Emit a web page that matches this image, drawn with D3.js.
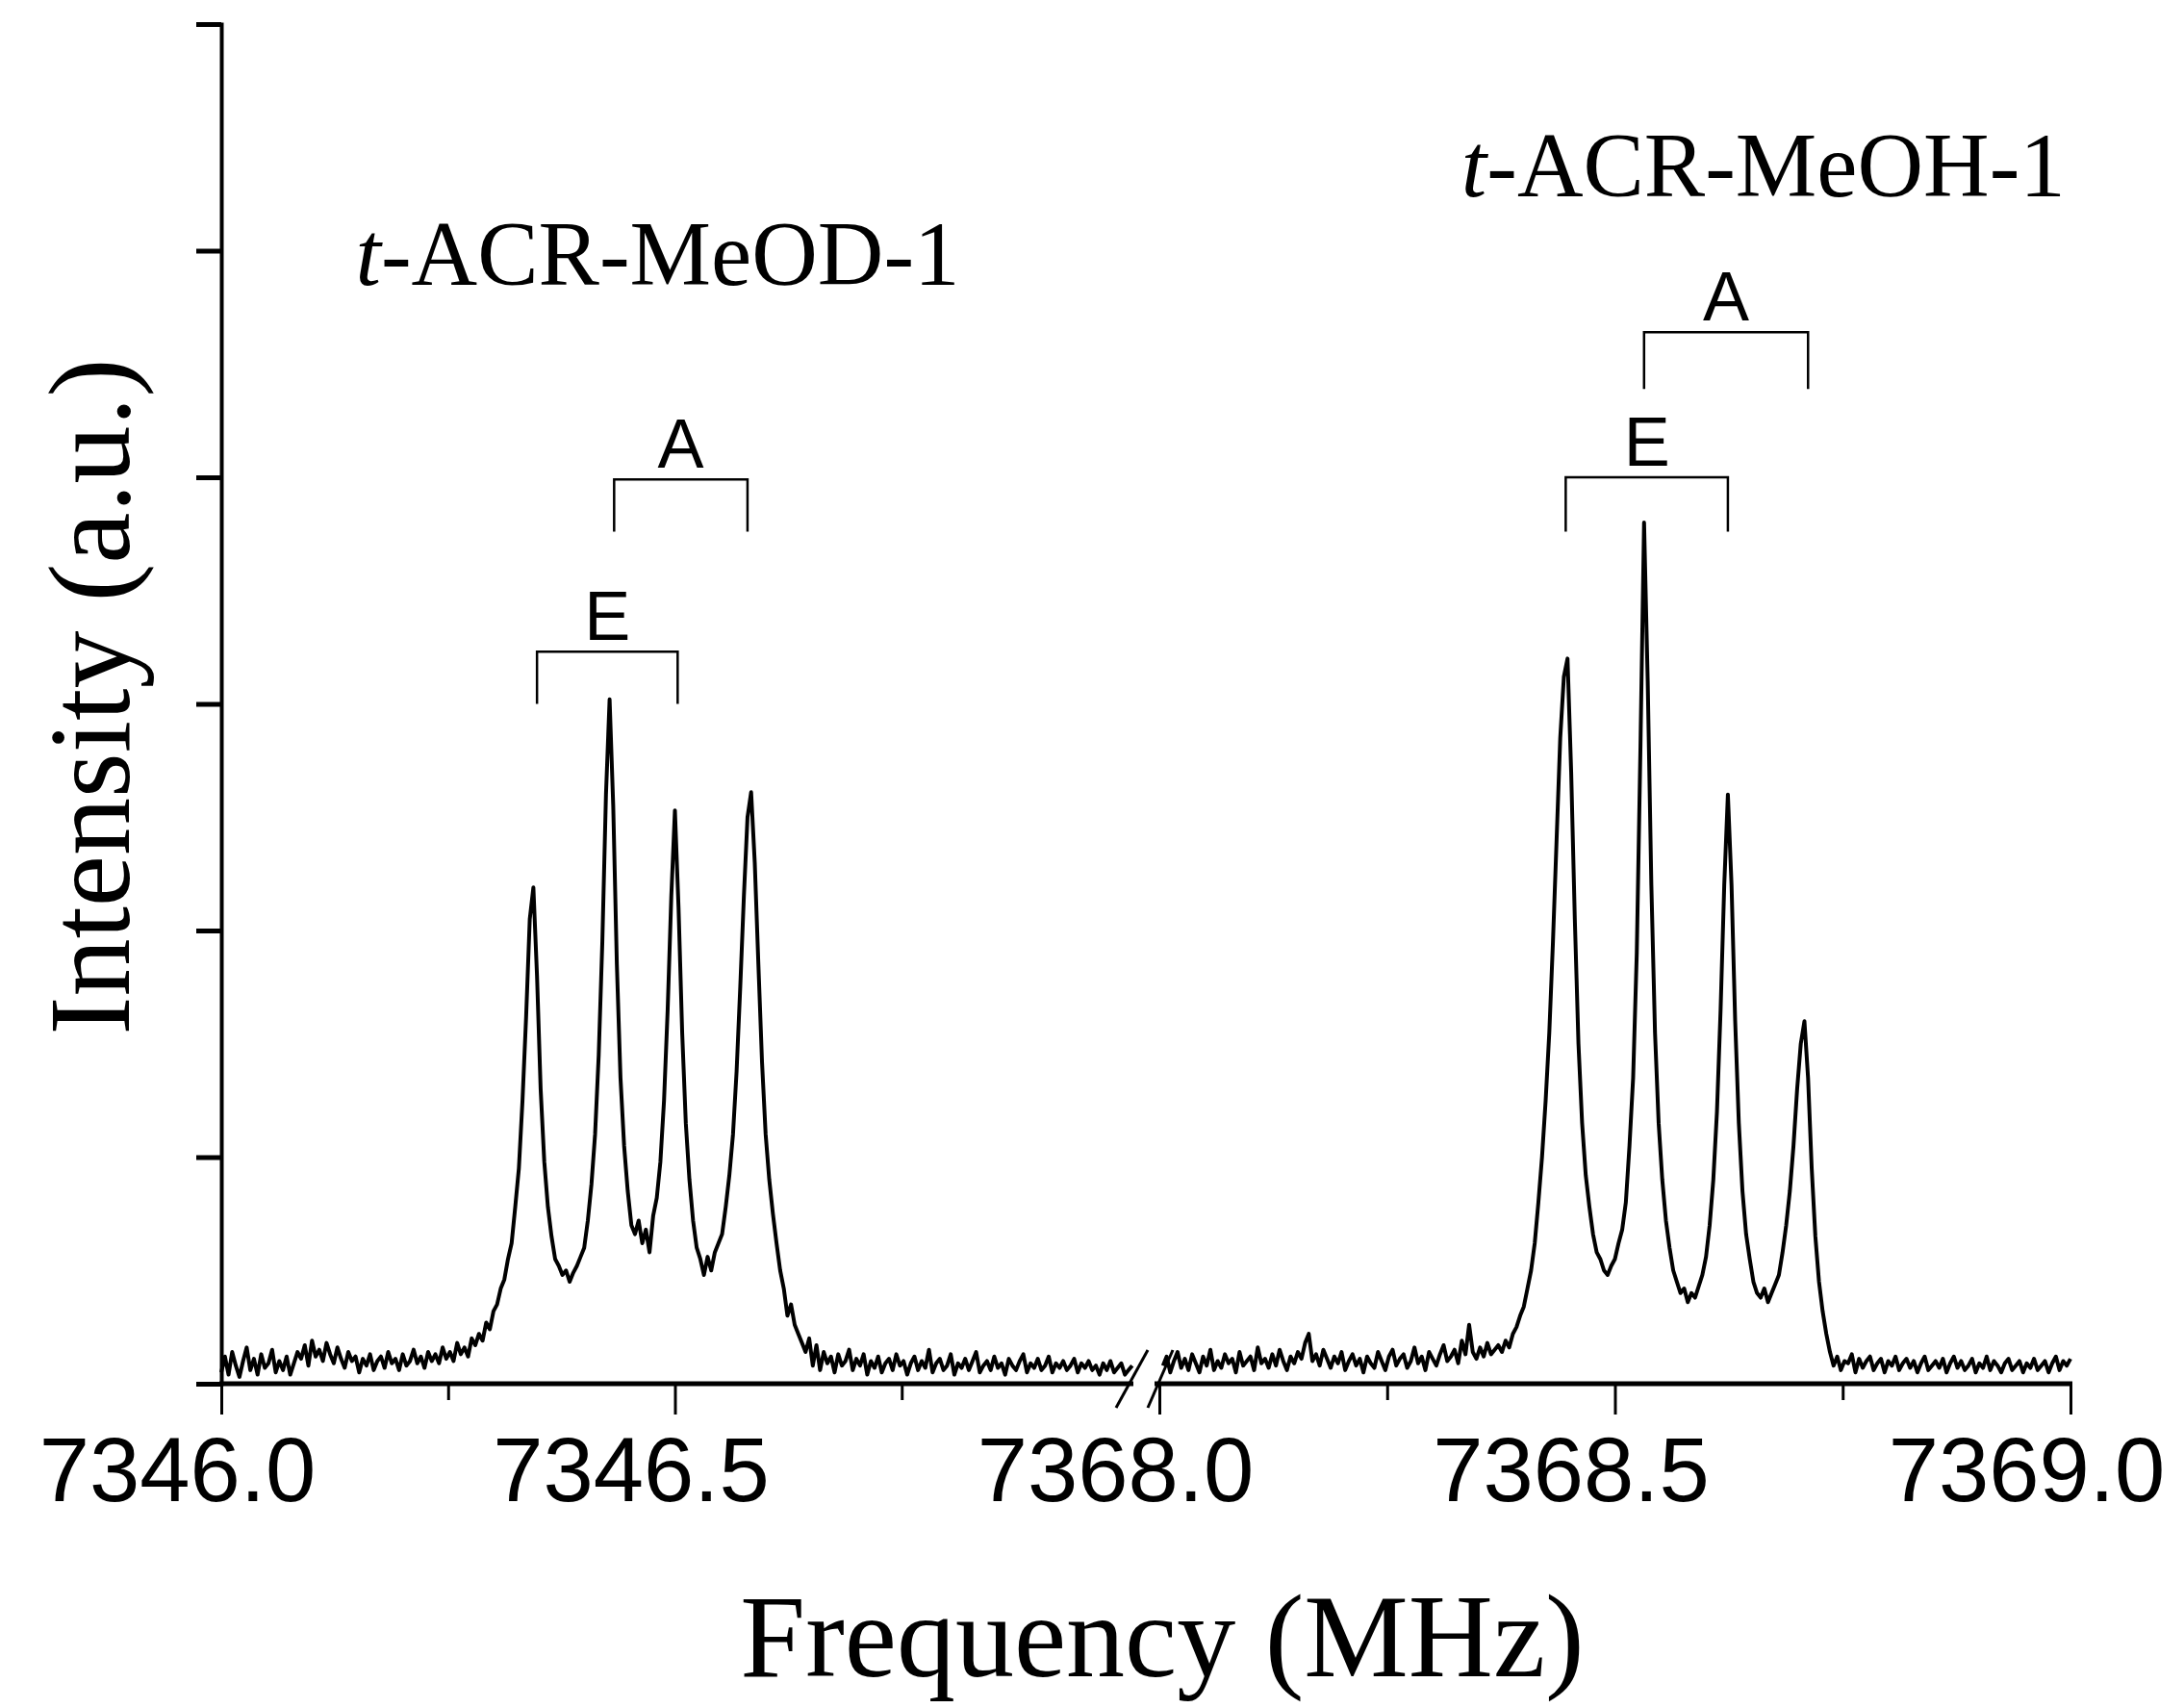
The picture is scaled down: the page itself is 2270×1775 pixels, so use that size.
<!DOCTYPE html>
<html><head><meta charset="utf-8">
<script src="https://cdn.jsdelivr.net/npm/d3@7"></script>
<style>body{margin:0;background:#fff}</style>
</head><body>
<svg id="c" width="2270" height="1775"></svg>
<script>
// ---- data ----
const leftStart = 7346.0, rightStart = 7368.004, step = 0.004;
const leftValues = [
0.05,0.12,0.04,0.14,0.08,0.03,0.10,0.16,0.06,0.11,
0.04,0.13,0.07,0.09,0.15,0.05,0.10,0.06,0.12,0.04,
0.09,0.14,0.11,0.17,0.08,0.19,0.12,0.15,0.10,0.18,
0.13,0.09,0.16,0.11,0.07,0.14,0.10,0.12,0.05,0.11,
0.08,0.13,0.06,0.10,0.12,0.07,0.14,0.09,0.11,0.06,
0.13,0.08,0.10,0.15,0.09,0.12,0.07,0.14,0.10,0.13,
0.09,0.16,0.11,0.14,0.10,0.18,0.13,0.16,0.12,0.20,
0.17,0.22,0.19,0.27,0.24,0.32,
0.35,0.42,0.46,0.55,0.62,0.78,0.95,1.25,1.62,2.05,2.19,
1.80,1.30,0.98,0.78,0.65,0.55,0.52,0.48,0.50,0.45,0.49,0.52,0.56,0.60,0.72,0.88,1.10,1.45,1.95,2.60,3.02,
2.55,1.85,1.35,1.05,0.85,0.70,0.66,0.72,0.62,0.68,0.58,0.74,0.82,0.98,1.25,1.65,2.15,2.53,
2.10,1.55,1.15,0.90,0.72,0.60,0.55,0.48,0.56,0.50,0.58,0.62,0.66,0.78,0.92,1.10,1.38,1.75,2.15,2.50,2.61,
2.30,1.85,1.42,1.10,0.90,0.75,0.62,0.50,0.42,0.30,0.35,0.26,0.22,0.18,0.14,
0.20,0.08,0.17,0.06,0.14,0.09,0.12,0.05,0.13,0.08,
0.10,0.15,0.06,0.11,0.08,0.13,0.04,0.10,0.07,0.12,
0.05,0.09,0.11,0.06,0.13,0.08,0.10,0.04,0.09,0.12,
0.06,0.10,0.07,0.15,0.05,0.09,0.11,0.06,0.08,0.13,
0.04,0.09,0.07,0.11,0.06,0.10,0.14,0.05,0.08,0.10,
0.06,0.12,0.07,0.09,0.04,0.11,0.08,0.06,0.10,0.13,
0.05,0.09,0.07,0.11,0.06,0.08,0.12,0.05,0.09,0.07,
0.10,0.06,0.08,0.11,0.05,0.09,0.07,0.10,0.06,0.08,
0.04,0.09,0.06,0.10,0.05,0.07,0.09,0.04,0.06,0.08];
const rightValues = [
0.08,0.12,0.05,0.10,0.14,0.07,0.11,0.06,0.13,0.09,
0.05,0.12,0.08,0.15,0.06,0.10,0.07,0.13,0.09,0.11,
0.05,0.14,0.08,0.10,0.12,0.06,0.16,0.09,0.11,0.07,
0.13,0.08,0.15,0.10,0.06,0.12,0.09,0.14,0.11,0.18,
0.22,0.10,0.13,0.08,0.15,0.11,0.07,0.12,0.09,0.14,
0.06,0.10,0.13,0.08,0.11,0.05,0.12,0.09,0.07,0.14,
0.10,0.06,0.12,0.15,0.08,0.11,0.13,0.07,0.10,0.16,
0.09,0.12,0.06,0.14,0.11,0.08,0.13,0.17,0.10,0.12,
0.15,0.09,0.19,0.13,0.26,0.14,0.11,0.16,0.12,0.18,
0.13,0.15,0.17,0.14,0.19,0.16,
0.22,0.25,0.30,0.34,0.42,0.50,0.62,0.80,1.00,1.25,1.55,1.95,2.40,2.85,3.12,3.20,
2.70,2.05,1.50,1.15,0.92,0.78,0.66,0.58,0.55,0.50,0.48,0.52,0.55,0.62,0.68,0.80,1.05,1.35,1.90,2.80,3.80,
3.10,2.20,1.55,1.15,0.90,0.72,0.60,0.50,0.45,0.40,0.42,0.36,0.40,0.38,0.43,0.48,0.56,0.70,0.90,1.20,1.65,2.20,2.60,
2.20,1.60,1.15,0.85,0.66,0.55,0.45,0.40,0.38,0.42,0.36,0.40,0.44,0.48,0.58,0.70,0.85,1.05,1.30,1.50,1.60,
1.35,0.95,0.65,0.45,0.32,0.22,0.14,
0.08,0.12,0.06,0.10,0.09,0.13,0.05,0.11,0.07,0.10,
0.12,0.06,0.09,0.11,0.05,0.10,0.08,0.12,0.06,0.09,
0.11,0.07,0.10,0.05,0.09,0.12,0.06,0.08,0.10,0.07,
0.11,0.05,0.09,0.12,0.07,0.10,0.06,0.08,0.11,0.05,
0.09,0.07,0.12,0.06,0.10,0.08,0.05,0.09,0.11,0.06,
0.08,0.10,0.05,0.09,0.07,0.11,0.06,0.08,0.10,0.05,
0.09,0.12,0.06,0.10,0.08,0.11];
const leftTicks = [7346.0, 7346.25, 7346.5, 7346.75];
const rightTicks = [7368.0, 7368.25, 7368.5, 7368.75, 7369.0];
const majorTicks = [7346.0, 7346.5, 7368.0, 7368.5, 7369.0];
const yTicks = [0,1,2,3,4,5,6];
// brackets: [segment, f1, f2, yTop, yBottom, label]
const brackets = [
 ["L", 7346.433, 7346.580, 3.99, 3.76, "A"],
 ["L", 7346.348, 7346.503, 3.23, 3.00, "E"],
 ["R", 7368.532, 7368.712, 4.64, 4.39, "A"],
 ["R", 7368.446, 7368.624, 4.00, 3.76, "E"]];
const labels = [["L", 7346.481, 4.85, "MeOD"], ["R", 7368.663, 5.24, "MeOH"]];

// ---- scales ----
const svg = d3.select("#c");
const xL = d3.scaleLinear().domain([7346, 7347]).range([230, 1173]);
const xR = d3.scaleLinear().domain([7368, 7369]).range([1205, 2152]);
const y = d3.scaleLinear().domain([0, 6]).range([1438, 25]);
const xs = {L: xL, R: xR};

const line = d3.line().x(d => d[0]).y(d => y(d[1]));
const lp = leftValues.map((v,i) => [xL(leftStart + i*step), v]);
const rp = rightValues.map((v,i) => [xR(rightStart + i*step), v]);
[lp, rp].forEach(p => svg.append("path").attr("d", line(p))
  .attr("fill","none").attr("stroke","#000").attr("stroke-width",4).attr("stroke-linejoin","round"));

// axes
function xAxis(scale, ticks, x0, x1){
  const g = svg.append("g");
  g.append("line").attr("x1",x0).attr("x2",x1).attr("y1",1438).attr("y2",1438)
   .attr("stroke","#000").attr("stroke-width",5);
  const a = d3.axisBottom(scale).tickValues(ticks).tickFormat(d3.format(".1f"));
  const ga = svg.append("g").attr("transform","translate(0,1438)").call(a);
  ga.select(".domain").remove();
  ga.selectAll(".tick line").attr("stroke-width",3)
    .attr("y2", d => majorTicks.includes(d) ? 32 : 17);
  ga.selectAll(".tick text").attr("y",122).attr("dy",0).attr("x",-46)
    .attr("font-family","Liberation Sans, Arial, sans-serif").attr("font-size",94).attr("fill","#000")
    .text(d => majorTicks.includes(d) ? d3.format(".1f")(d) : "");
}
xAxis(xL, leftTicks, 228, 1178);
xAxis(xR, rightTicks, 1200, 2154);
// break marks
[[1193,1160],[1219,1193]].forEach(([a,b]) => svg.append("line")
  .attr("x1",a).attr("y1",1403).attr("x2",b).attr("y2",1463).attr("stroke","#000").attr("stroke-width",3));

const gy = svg.append("g").attr("transform","translate(230,0)")
  .call(d3.axisLeft(y).tickValues(yTicks).tickSize(26).tickFormat(""));
gy.select(".domain").attr("stroke-width",4);
gy.selectAll(".tick line").attr("stroke-width",5);

// titles
svg.append("text").attr("x",1208).attr("y",1742).attr("text-anchor","middle")
  .attr("font-family","Liberation Serif, Times New Roman, serif").attr("font-size",122)
  .text("Frequency (MHz)");
svg.append("text").attr("transform","translate(134,724) rotate(-90)").attr("text-anchor","middle")
  .attr("font-family","Liberation Serif, Times New Roman, serif").attr("font-size",120)
  .text("Intensity (a.u.)");

labels.forEach(([s,f,v,name]) => {
  const t = svg.append("text").attr("x", xs[s](f)).attr("y", y(v)).attr("text-anchor","middle")
    .attr("font-family","Liberation Serif, Times New Roman, serif").attr("font-size",95);
  t.append("tspan").attr("font-style","italic").text("t");
  t.append("tspan").text("-ACR-" + name + "-1");
});

brackets.forEach(([s,f1,f2,yt,yb,lab]) => {
  const x1 = xs[s](f1), x2 = xs[s](f2);
  svg.append("path").attr("d", `M${x1},${y(yb)}V${y(yt)}H${x2}V${y(yb)}`)
    .attr("fill","none").attr("stroke","#000").attr("stroke-width",2.5);
  svg.append("text").attr("x",(x1+x2)/2).attr("y", y(yt) - 12).attr("text-anchor","middle")
    .attr("font-family","Liberation Sans, Arial, sans-serif").attr("font-size",72).text(lab);
});
</script>
</body></html>
